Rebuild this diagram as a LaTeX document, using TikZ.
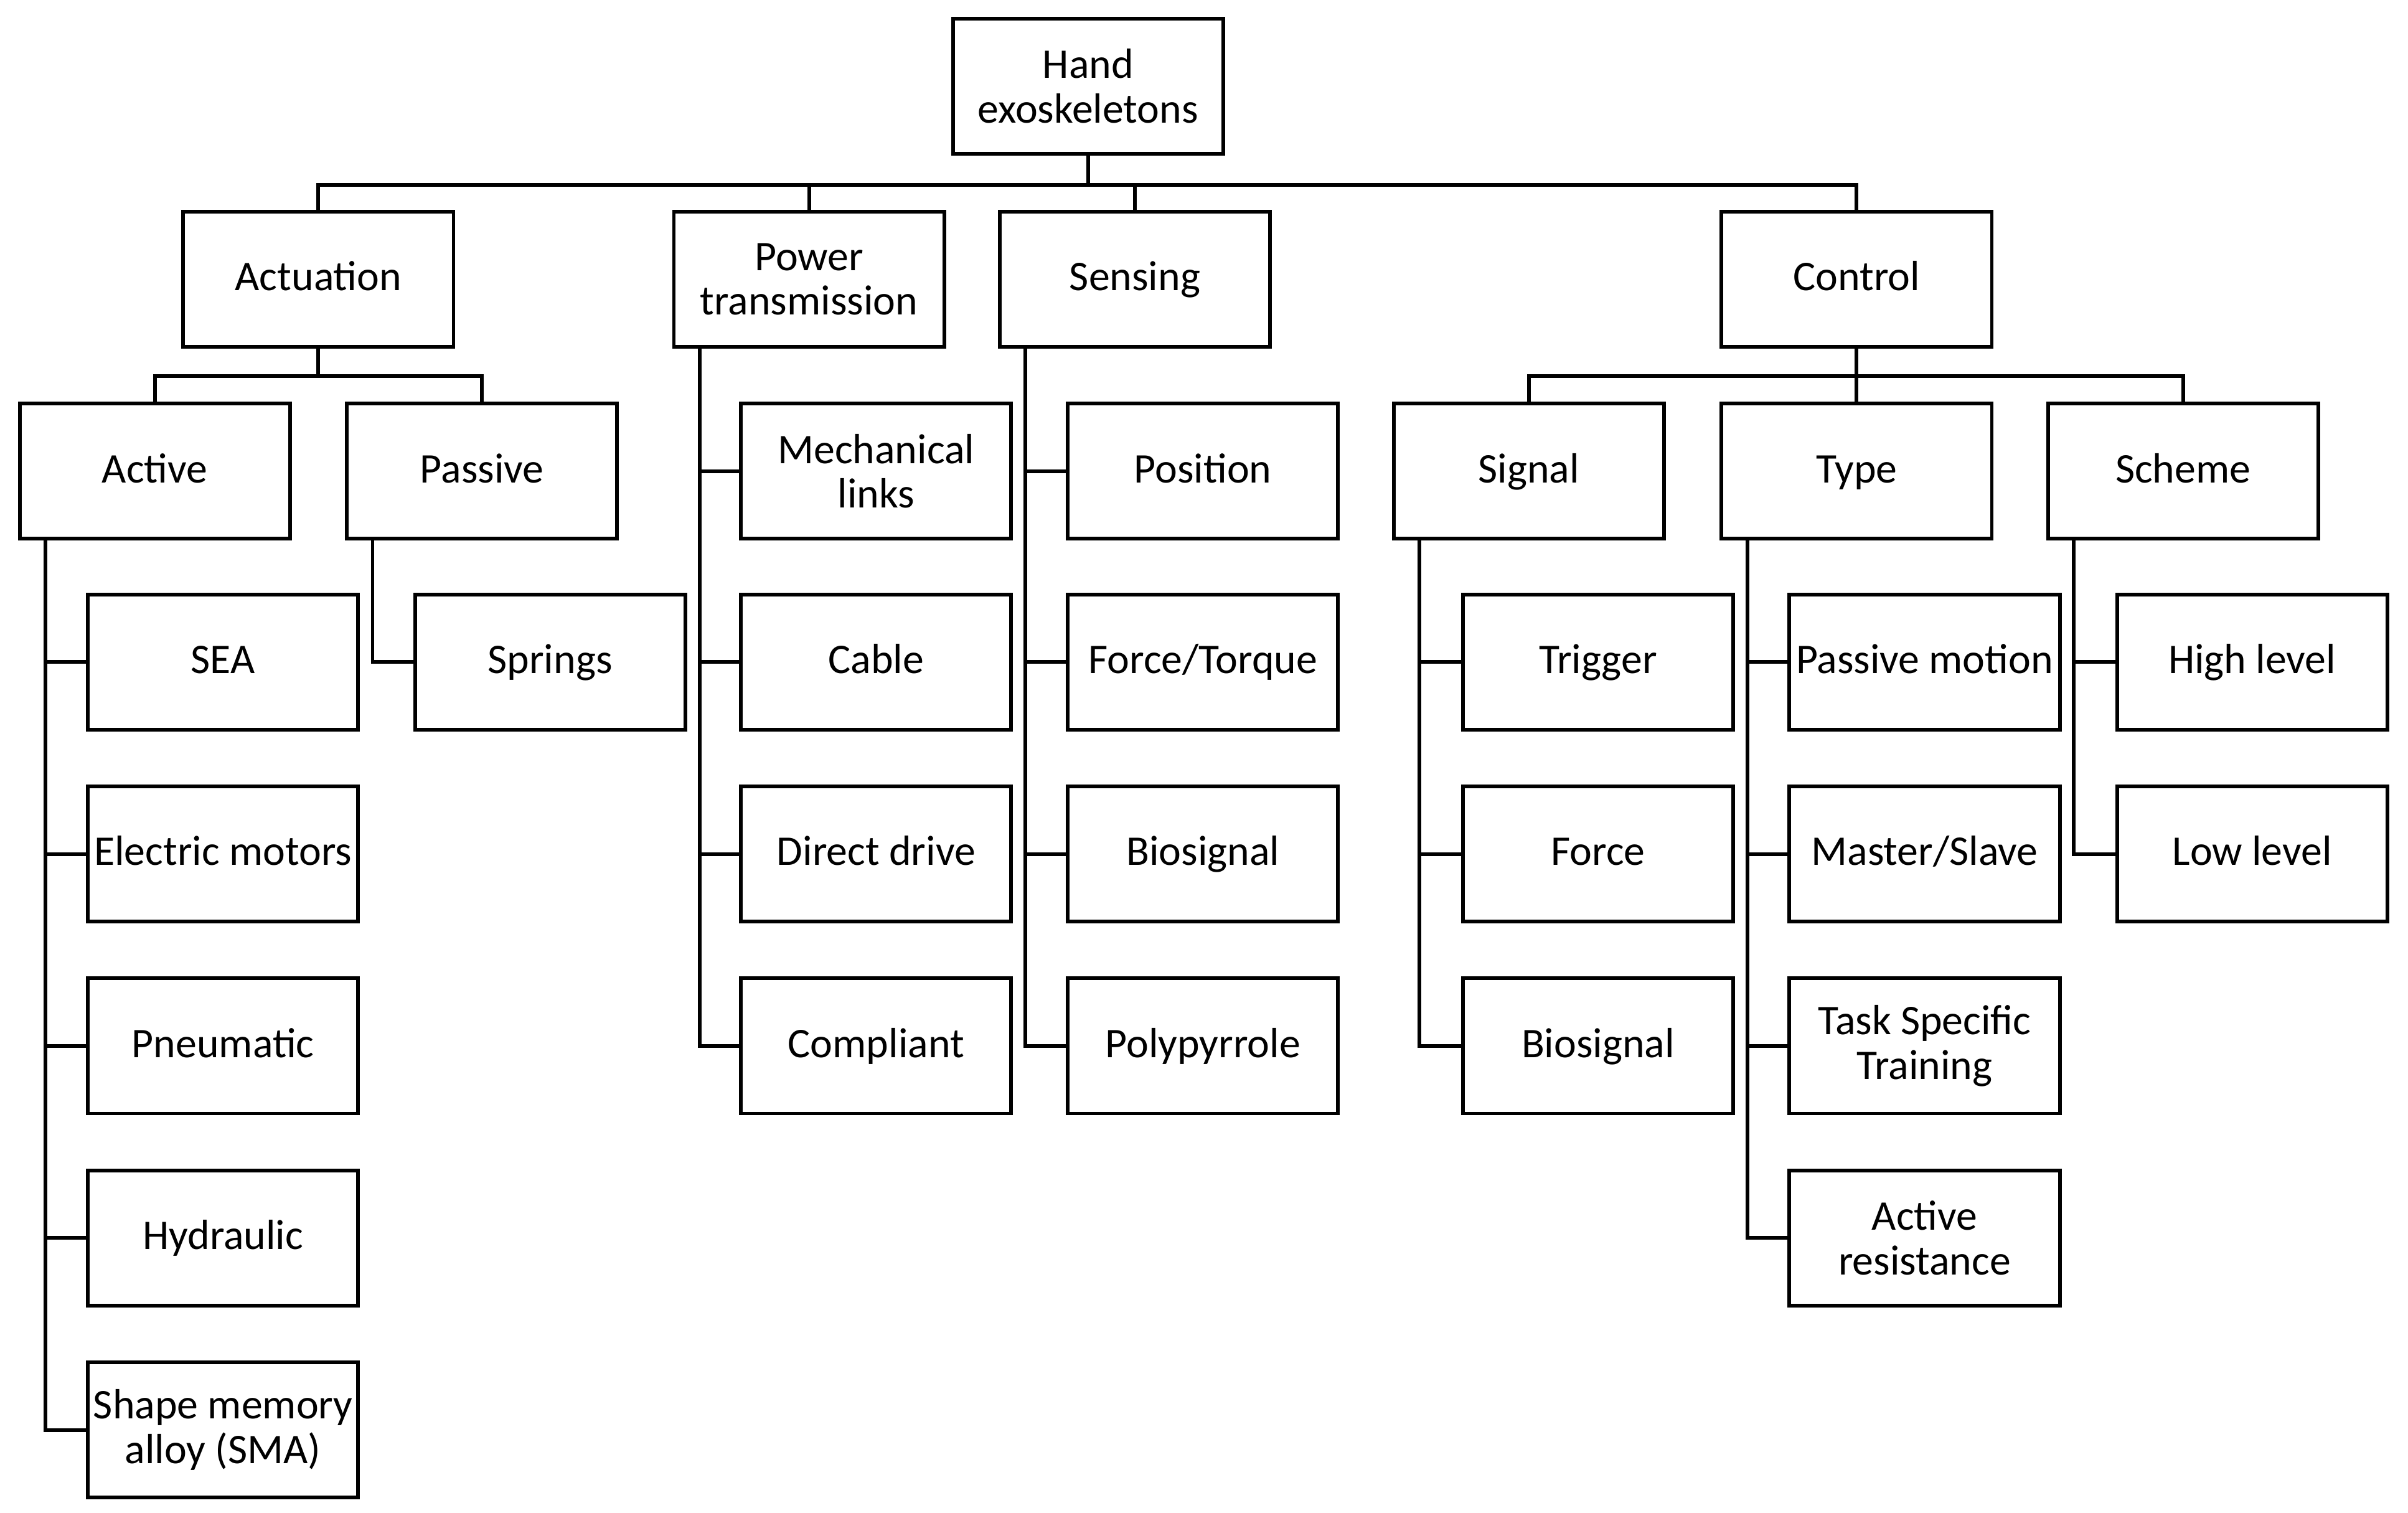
\documentclass[tikz,border=0pt]{standalone}
\usepackage{fontspec}
\setmainfont{Carlito}
\begin{document}
\begin{tikzpicture}[x=0.5pt,y=-0.5pt,
  box/.style={draw, line width=1.2pt, minimum width=88pt, minimum height=44pt, inner sep=0pt, align=center, font=\fontsize{13.75pt}{14.5pt}\selectfont},
  sbox/.style={box, text height=0.9em, text depth=0.16em},
  conn/.style={line width=1.2pt}]
\useasboundingbox (0,0) rectangle (1568,985);
% top levels
\node[box] (root) at (708.5,56) {Hand\\exoskeletons};
\node[sbox] (act) at (207.3,181.8) {Actuation};
\node[box] (pow) at (526.8,181.8) {Power\\transmission};
\node[sbox] (sen) at (739,181.8) {Sensing};
\node[sbox] (ctl) at (1209,181.8) {Control};
\node[sbox] (active) at (100.8,306.8) {Active};
\node[sbox] (passive) at (313.8,306.8) {Passive};
\node[sbox] (signal) at (995.5,306.8) {Signal};
\node[sbox] (type) at (1209,306.8) {Type};
\node[sbox] (scheme) at (1421.5,306.8) {Scheme};
% actuation leaves
\node[sbox] (sea) at (145.2,431) {SEA};
\node[sbox] (elec) at (145.2,556) {Electric motors};
\node[sbox] (pneu) at (145.2,681) {Pneumatic};
\node[sbox] (hydr) at (145.2,806) {Hydraulic};
\node[box] (sma) at (145.2,931) {Shape memory\\alloy (SMA)};
\node[sbox] (spr) at (358.2,431) {Springs};
% power transmission leaves
\node[box] (mech) at (570.5,306.8) {Mechanical\\links};
\node[sbox] (cable) at (570.5,431) {Cable};
\node[sbox] (direct) at (570.5,556) {Direct drive};
\node[sbox] (compl) at (570.5,681) {Compliant};
% sensing leaves
\node[sbox] (posi) at (783.3,306.8) {Position};
\node[sbox] (ftq) at (783.3,431) {Force/Torque};
\node[sbox] (bios) at (783.3,556) {Biosignal};
\node[sbox] (poly) at (783.3,681) {Polypyrrole};
% signal leaves
\node[sbox] (trig) at (1040.6,431) {Trigger};
\node[sbox] (force) at (1040.6,556) {Force};
\node[sbox] (biosig) at (1040.6,681) {Biosignal};
% type leaves
\node[sbox] (pmot) at (1253.2,431) {Passive motion};
\node[sbox] (mast) at (1253.2,556) {Master/Slave};
\node[box] (task) at (1253.2,681) {Task Specific\\Training};
\node[box] (ares) at (1253.2,806) {Active\\resistance};
% scheme leaves
\node[sbox] (high) at (1466.5,431) {High level};
\node[sbox] (low) at (1466.5,556) {Low level};
% buses
\coordinate (b1) at (0,120.3);
\coordinate (b2) at (0,244.8);
\draw[conn] (root.south) -- (root.south |- b1);
\draw[conn] (act.north) -- (act.north |- b1) -- (ctl.north |- b1) -- (ctl.north);
\draw[conn] (pow.north) -- (pow.north |- b1);
\draw[conn] (sen.north) -- (sen.north |- b1);
\draw[conn] (act.south) -- (act.south |- b2);
\draw[conn] (active.north) -- (active.north |- b2) -- (passive.north |- b2) -- (passive.north);
\draw[conn] (ctl.south) -- (ctl.south |- b2);
\draw[conn] (signal.north) -- (signal.north |- b2) -- (scheme.north |- b2) -- (scheme.north);
\draw[conn] (type.north) -- (type.north |- b2);
% trunks
\foreach \p/\c in {active/sea,active/elec,active/pneu,active/hydr,active/sma,passive/spr,
  pow/mech,pow/cable,pow/direct,pow/compl,sen/posi,sen/ftq,sen/bios,sen/poly,
  signal/trig,signal/force,signal/biosig,type/pmot,type/mast,type/task,type/ares,
  scheme/high,scheme/low}
  \draw[conn] ([xshift=9pt]\p.south west) |- (\c.west);
\end{tikzpicture}
\end{document}
